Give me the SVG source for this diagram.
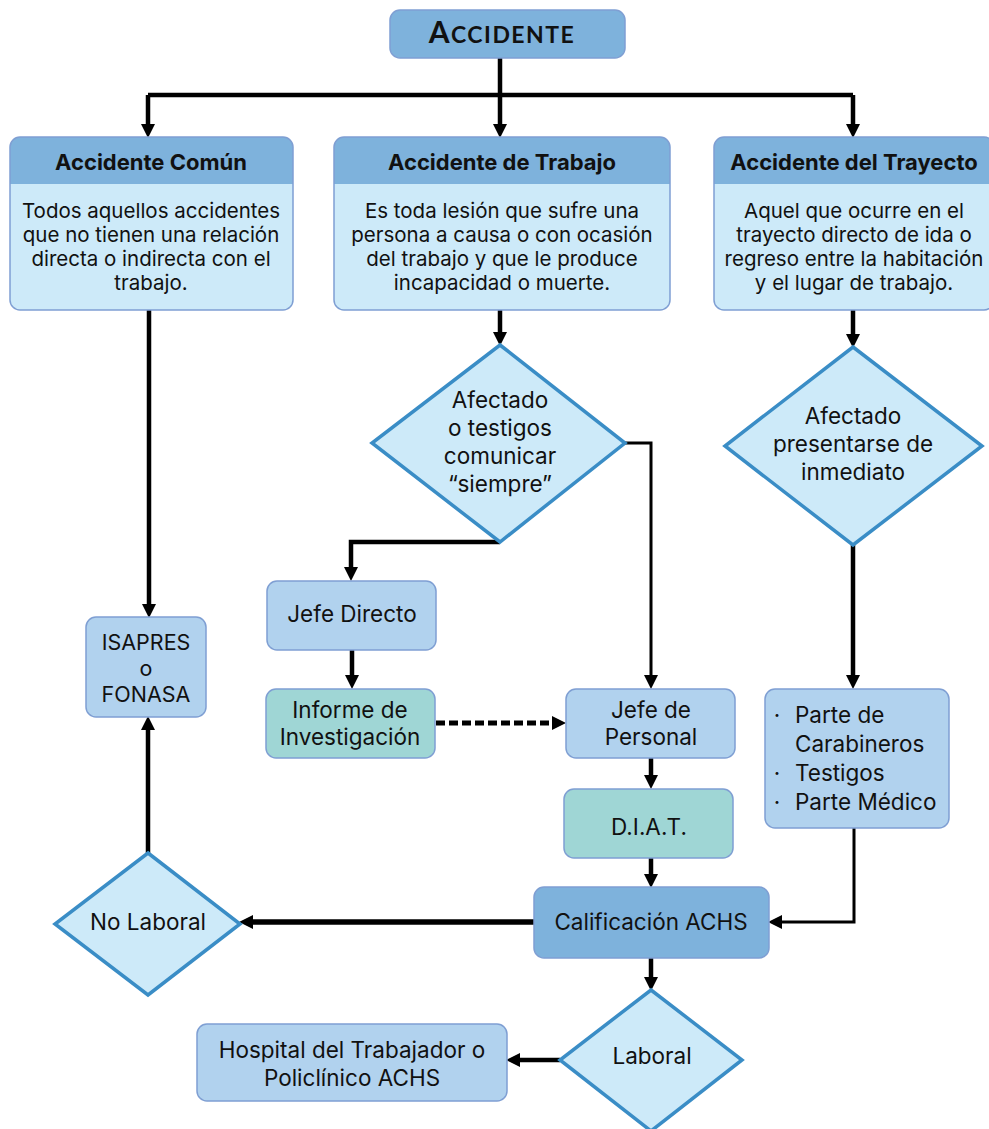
<svg xmlns="http://www.w3.org/2000/svg" width="989" height="1129" viewBox="0 0 989 1129">
<style>
text{font-family:Inter,"Noto Sans","Liberation Sans",sans-serif;fill:#111;text-anchor:middle}
.hd{font-weight:bold;font-size:22px}
.bd{font-size:20.5px}
.lb{font-size:22.5px}
.st{text-anchor:start}
.bodyfill{fill:#cdeaf9}
.hdr{fill:#7eb2dc}
.outline{fill:none;stroke:#7f9fd3;stroke-width:1.5}
.box{fill:#b1d2ee;stroke:#7f9fd3;stroke-width:1.5}
.teal{fill:#9fd6d5;stroke:#7f9fd3;stroke-width:1.5}
.dk{fill:#7eb2dc;stroke:#7f9fd3;stroke-width:1.5}
.dia{fill:#cdeaf9;stroke:#3a8dc6;stroke-width:3.5}
.c{fill:none;stroke:#000;stroke-width:4.5}
.t{fill:none;stroke:#000;stroke-width:3}
</style>
<defs>
<marker id="ah" markerUnits="userSpaceOnUse" markerWidth="14" markerHeight="14" viewBox="0 0 12 12" refX="6" refY="6" orient="auto">
<path d="M0,0 L12,6 L0,12 z" fill="#000"/>
</marker>
</defs>

<g id="connectors">
<path class="c" d="M500,58 V95"/>
<path class="c" d="M148,95 H853" />
<path class="c" d="M148,95 V131" marker-end="url(#ah)"/>
<path class="c" d="M500,95 V131" marker-end="url(#ah)"/>
<path class="c" d="M853,95 V131" marker-end="url(#ah)"/>
<path class="c" d="M149,310 V611" marker-end="url(#ah)"/>
<path class="c" d="M500,310 V339" marker-end="url(#ah)"/>
<path class="c" d="M853,310 V341" marker-end="url(#ah)"/>
<path class="t" d="M625,443 H651 V682" marker-end="url(#ah)"/>
<path class="c" d="M500,542 H351 V574" marker-end="url(#ah)"/>
<path class="c" d="M352,650 V682" marker-end="url(#ah)"/>
<path d="M436,723 H559" fill="none" stroke="#000" stroke-width="5" stroke-dasharray="9 4" marker-end="url(#ah)"/>
<path class="c" d="M651,758 V782" marker-end="url(#ah)"/>
<path class="c" d="M651,858 V881" marker-end="url(#ah)"/>
<path class="c" d="M853,545 V682" marker-end="url(#ah)"/>
<path class="t" d="M854,828 V922 H775" marker-end="url(#ah)"/>
<path d="M534,922 H246" fill="none" stroke="#000" stroke-width="5.5" marker-end="url(#ah)"/>
<path class="c" d="M148,853 V723" marker-end="url(#ah)"/>
<path class="c" d="M651,958 V984" marker-end="url(#ah)"/>
<path class="c" d="M560,1060 H513" marker-end="url(#ah)"/>
</g>

<g id="accidente">
<rect x="390" y="10" width="235" height="48" rx="10" class="dk"/>
<text x="502" y="43" font-weight="bold" letter-spacing="1.5" style="font-family:Lato,'Noto Sans',sans-serif"><tspan font-size="30">A</tspan><tspan font-size="23">CCIDENTE</tspan></text>
</g>

<g id="comun">
<rect x="10" y="137" width="283" height="173" rx="10" class="bodyfill"/>
<path d="M10,184 V147 a10,10 0 0 1 10,-10 H283 a10,10 0 0 1 10,10 V184 Z" class="hdr"/>
<rect x="10" y="137" width="283" height="173" rx="10" class="outline"/>
<text x="151" y="170" class="hd">Accidente Común</text>
<text x="151" y="218" class="bd">Todos aquellos accidentes</text>
<text x="151" y="242" class="bd">que no tienen una relación</text>
<text x="151" y="266" class="bd">directa o indirecta con el</text>
<text x="151" y="290" class="bd">trabajo.</text>
</g>

<g id="trabajo">
<rect x="334" y="137" width="336" height="173" rx="10" class="bodyfill"/>
<path d="M334,184 V147 a10,10 0 0 1 10,-10 H660 a10,10 0 0 1 10,10 V184 Z" class="hdr"/>
<rect x="334" y="137" width="336" height="173" rx="10" class="outline"/>
<text x="502" y="170" class="hd">Accidente de Trabajo</text>
<text x="502" y="218" class="bd">Es toda lesión que sufre una</text>
<text x="502" y="242" class="bd">persona a causa o con ocasión</text>
<text x="502" y="266" class="bd">del trabajo y que le produce</text>
<text x="502" y="290" class="bd">incapacidad o muerte.</text>
</g>

<g id="trayecto">
<rect x="714" y="137" width="280" height="173" rx="10" class="bodyfill"/>
<path d="M714,184 V147 a10,10 0 0 1 10,-10 H984 a10,10 0 0 1 10,10 V184 Z" class="hdr"/>
<rect x="714" y="137" width="280" height="173" rx="10" class="outline"/>
<text x="854" y="170" class="hd">Accidente del Trayecto</text>
<text x="854" y="218" class="bd">Aquel que ocurre en el</text>
<text x="854" y="242" class="bd">trayecto directo de ida o</text>
<text x="854" y="266" class="bd">regreso entre la habitación</text>
<text x="854" y="290" class="bd">y el lugar de trabajo.</text>
</g>

<g id="afectado-comunicar">
<polygon points="500,345 625,443 500,542 372,443" class="dia"/>
<text x="500" y="408" class="lb">Afectado</text>
<text x="500" y="436" class="lb">o testigos</text>
<text x="500" y="464" class="lb">comunicar</text>
<text x="500" y="492" class="lb">“siempre”</text>
</g>

<g id="afectado-presentarse">
<polygon points="853,347 982,446 853,545 725,446" class="dia"/>
<text x="853" y="424" class="lb">Afectado</text>
<text x="853" y="452" class="lb">presentarse de</text>
<text x="853" y="480" class="lb">inmediato</text>
</g>

<g id="isapres">
<rect x="86" y="617" width="120" height="100" rx="10" class="box"/>
<text x="146" y="650" class="lb" style="font-size:21.5px">ISAPRES</text>
<text x="146" y="676" class="lb" style="font-size:21.5px">o</text>
<text x="146" y="702" class="lb" style="font-size:21.5px">FONASA</text>
</g>

<g id="jefe-directo">
<rect x="267" y="581" width="169" height="69" rx="10" class="box"/>
<text x="352" y="622" class="lb">Jefe Directo</text>
</g>

<g id="informe">
<rect x="266" y="689" width="169" height="69" rx="10" class="teal"/>
<text x="350" y="718" class="lb">Informe de</text>
<text x="350" y="745" class="lb">Investigación</text>
</g>

<g id="jefe-personal">
<rect x="566" y="689" width="169" height="69" rx="10" class="box"/>
<text x="651" y="718" class="lb">Jefe de</text>
<text x="651" y="745" class="lb">Personal</text>
</g>

<g id="partes">
<rect x="765" y="689" width="184" height="139" rx="10" class="box"/>
<text x="777" y="723" class="lb">·</text>
<text x="795" y="723" class="lb st">Parte de</text>
<text x="795" y="752" class="lb st">Carabineros</text>
<text x="777" y="781" class="lb">·</text>
<text x="795" y="781" class="lb st">Testigos</text>
<text x="777" y="810" class="lb">·</text>
<text x="795" y="810" class="lb st">Parte Médico</text>
</g>

<g id="diat">
<rect x="564" y="789" width="169" height="69" rx="10" class="teal"/>
<text x="649" y="835" class="lb">D.I.A.T.</text>
</g>

<g id="calificacion">
<rect x="534" y="887" width="235" height="71" rx="10" class="dk"/>
<text x="651" y="930" class="lb">Calificación ACHS</text>
</g>

<g id="no-laboral">
<polygon points="148,853 240,924 148,995 55,924" class="dia"/>
<text x="148" y="930" class="lb">No Laboral</text>
</g>

<g id="laboral">
<polygon points="651,990 742,1060 651,1131 560,1060" class="dia"/>
<text x="652" y="1064" class="lb">Laboral</text>
</g>

<g id="hospital">
<rect x="197" y="1024" width="310" height="77" rx="10" class="box"/>
<text x="352" y="1058" class="lb">Hospital del Trabajador o</text>
<text x="352" y="1086" class="lb">Policlínico ACHS</text>
</g>
</svg>
